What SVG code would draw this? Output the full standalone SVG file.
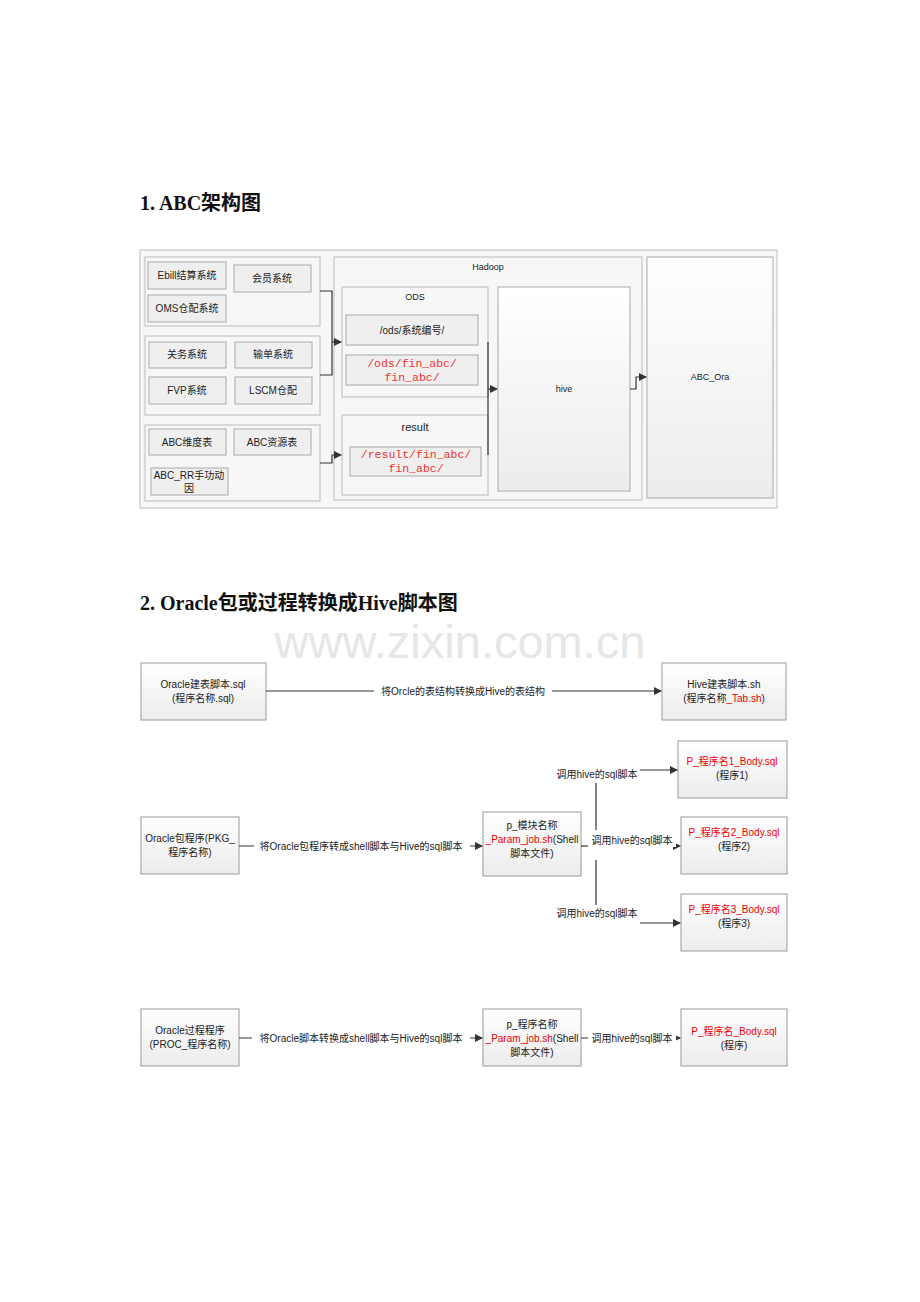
<svg xmlns="http://www.w3.org/2000/svg" width="920" height="1302" viewBox="0 0 920 1302">
<defs>
<linearGradient id="g" x1="0" y1="0" x2="0" y2="1"><stop offset="0" stop-color="#ffffff"/><stop offset="1" stop-color="#ececec"/></linearGradient>
<marker id="a" markerWidth="8" markerHeight="8" refX="7" refY="4" orient="auto" markerUnits="userSpaceOnUse"><path d="M0,0 L8,4 L0,8 z" fill="#333"/></marker>
</defs>
<style>
.f{fill:#f7f7f7;stroke:#bbb;stroke-width:1}
.b{fill:url(#g);stroke:#999;stroke-width:1}
.s{fill:#efefef;stroke:#aaa;stroke-width:1}
.w{fill:url(#g);stroke:#aaa;stroke-width:1}
text{font-family:"Liberation Sans","Noto Sans CJK SC",sans-serif;font-size:10px;fill:#222;text-anchor:middle}
.m{font-family:"Liberation Mono","Noto Sans CJK SC",monospace;font-size:11.5px;fill:#e33}
.r{fill:#e00}
.t{font-family:"Liberation Serif","Noto Sans CJK SC",serif;font-size:20px;font-weight:bold;text-anchor:start;fill:#111}
.c{fill:none;stroke:#333;stroke-width:1.2}
</style>
<text class="t" x="140" y="210">1.  ABC架构图</text>
<text class="t" x="140" y="610">2.  Oracle包或过程转换成Hive脚本图</text>
<text x="460" y="658" style="font-size:47px;fill:#e6e6e6;font-family:'Liberation Sans',sans-serif">www.zixin.com.cn</text>
<g id="frame"><rect class="f" x="140" y="250" width="637" height="258"/></g>
<g id="grp1"><rect class="f" x="145" y="257" width="175" height="69"/>
<rect class="s" x="148" y="262" width="78" height="27"/><text x="187" y="279">Ebill结算系统</text>
<rect class="s" x="234" y="265" width="77" height="27"/><text x="272" y="282">会员系统</text>
<rect class="s" x="148" y="295" width="78" height="27"/><text x="187" y="312">OMS仓配系统</text></g>
<g id="grp2"><rect class="f" x="145" y="336" width="175" height="79"/>
<rect class="s" x="149" y="342" width="77" height="26"/><text x="187" y="358">关务系统</text>
<rect class="s" x="235" y="342" width="77" height="26"/><text x="273" y="358">输单系统</text>
<rect class="s" x="149" y="377" width="77" height="27"/><text x="187" y="394">FVP系统</text>
<rect class="s" x="235" y="377" width="77" height="27"/><text x="273" y="394">LSCM仓配</text></g>
<g id="grp3"><rect class="f" x="145" y="425" width="175" height="76"/>
<rect class="s" x="149" y="429" width="77" height="26"/><text x="187" y="446">ABC维度表</text>
<rect class="s" x="234" y="429" width="77" height="26"/><text x="272" y="446">ABC资源表</text>
<rect class="s" x="151" y="468" width="77" height="27"/><text x="189" y="479">ABC_RR手功动</text><text x="189" y="492">因</text></g>
<g id="hadoop"><rect class="f" x="334" y="257" width="308" height="243"/><text x="488" y="270" style="font-size:9px">Hadoop</text></g>
<g id="ods"><rect class="f" x="342" y="287" width="146" height="110"/><text x="415" y="300" style="font-size:9px">ODS</text>
<rect class="s" x="346" y="315" width="132" height="30"/><text x="412" y="334">/ods/系统编号/</text>
<rect class="s" x="346" y="355" width="132" height="30"/><text class="m" x="412" y="367">/ods/fin_abc/</text><text class="m" x="412" y="381">fin_abc/</text></g>
<g id="result"><rect class="f" x="342" y="415" width="146" height="80"/><text x="415" y="431" style="font-size:11px">result</text>
<rect class="s" x="350" y="447" width="131" height="29"/><text class="m" x="416" y="458">/result/fin_abc/</text><text class="m" x="416" y="472">fin_abc/</text></g>
<g id="hive"><rect class="w" x="498" y="287" width="132" height="204"/><text x="564" y="392" style="font-size:9px">hive</text></g>
<g id="abcora"><rect class="w" x="647" y="257" width="126" height="241"/><text x="710" y="380" style="font-size:9px">ABC_Ora</text></g>

<g id="n1"><rect class="b" x="141" y="663" width="125" height="57"/><text x="203" y="688">Oracle建表脚本.sql</text><text x="203" y="702">(程序名称.sql)</text></g>
<g id="n2"><rect class="b" x="662" y="663" width="124" height="57"/><text x="724" y="688">Hive建表脚本.sh</text><text x="724" y="702">(程序名称<tspan class="r">_Tab.sh</tspan>)</text></g>
<g id="n3"><rect class="b" x="141" y="817" width="98" height="57"/><text x="190" y="842">Oracle包程序(PKG_</text><text x="190" y="856">程序名称)</text></g>
<g id="n4"><rect class="b" x="483" y="812" width="98" height="64"/><text x="532" y="829">p_模块名称</text><text x="532" y="843"><tspan class="r">_Param_job.sh</tspan>(Shell</text><text x="532" y="857">脚本文件)</text></g>
<g id="n5"><rect class="b" x="678" y="741" width="109" height="57"/><text class="r" x="732" y="765">P_程序名1_Body.sql</text><text x="732" y="779">(程序1)</text></g>
<g id="n6"><rect class="b" x="681" y="817" width="106" height="57"/><text class="r" x="734" y="836">P_程序名2_Body.sql</text><text x="734" y="850">(程序2)</text></g>
<g id="n7"><rect class="b" x="681" y="894" width="106" height="57"/><text class="r" x="734" y="913">P_程序名3_Body.sql</text><text x="734" y="927">(程序3)</text></g>
<g id="n8"><rect class="b" x="141" y="1009" width="98" height="57"/><text x="190" y="1034">Oracle过程程序</text><text x="190" y="1048">(PROC_程序名称)</text></g>
<g id="n9"><rect class="b" x="483" y="1009" width="98" height="57"/><text x="532" y="1028">p_程序名称</text><text x="532" y="1042"><tspan class="r">_Param_job.sh</tspan>(Shell</text><text x="532" y="1056">脚本文件)</text></g>
<g id="n10"><rect class="b" x="681" y="1009" width="106" height="57"/><text class="r" x="734" y="1035">P_程序名_Body.sql</text><text x="734" y="1049">(程序)</text></g>

<g id="connectors">
<path class="c" d="M320,291 H332 V375 H320"/><path class="c" d="M332,342 H341" marker-end="url(#a)"/>
<path class="c" d="M320,463 H332 V455 H341" marker-end="url(#a)"/>
<path class="c" d="M488,342 V455"/><path class="c" d="M488,389 H497" marker-end="url(#a)"/>
<path class="c" d="M630,389 H636 V377 H646" marker-end="url(#a)"/>
<path class="c" d="M266,691 H661" marker-end="url(#a)"/>
<path class="c" d="M239,846 H482" marker-end="url(#a)"/>
<path class="c" d="M581,846 H588"/>
<path class="c" d="M596,783 V830 M596,860 V905"/>
<path class="c" d="M677,846 H680" marker-end="url(#a)"/>
<path class="c" d="M640,770 H677" marker-end="url(#a)"/>
<path class="c" d="M640,923 H680" marker-end="url(#a)"/>
<path class="c" d="M239,1038 H482" marker-end="url(#a)"/>
<path class="c" d="M581,1038 H680" marker-end="url(#a)"/>
</g>
<g id="labels" style="font-size:10px">
<rect x="374" y="684" width="178" height="14" fill="#fff"/><text x="463" y="695">将Orcle的表结构转换成Hive的表结构</text>
<rect x="254" y="839" width="216" height="14" fill="#fff"/><text x="361" y="850">将Oracle包程序转成shell脚本与Hive的sql脚本</text>
<text x="597" y="778">调用hive的sql脚本</text>
<rect x="588" y="833" width="88" height="14" fill="#fff"/><text x="632" y="844">调用hive的sql脚本</text>
<text x="597" y="917">调用hive的sql脚本</text>
<rect x="252" y="1031" width="218" height="14" fill="#fff"/><text x="361" y="1042">将Oracle脚本转换成shell脚本与Hive的sql脚本</text>
<rect x="588" y="1031" width="88" height="14" fill="#fff"/><text x="632" y="1042">调用hive的sql脚本</text>
</g>
</svg>
